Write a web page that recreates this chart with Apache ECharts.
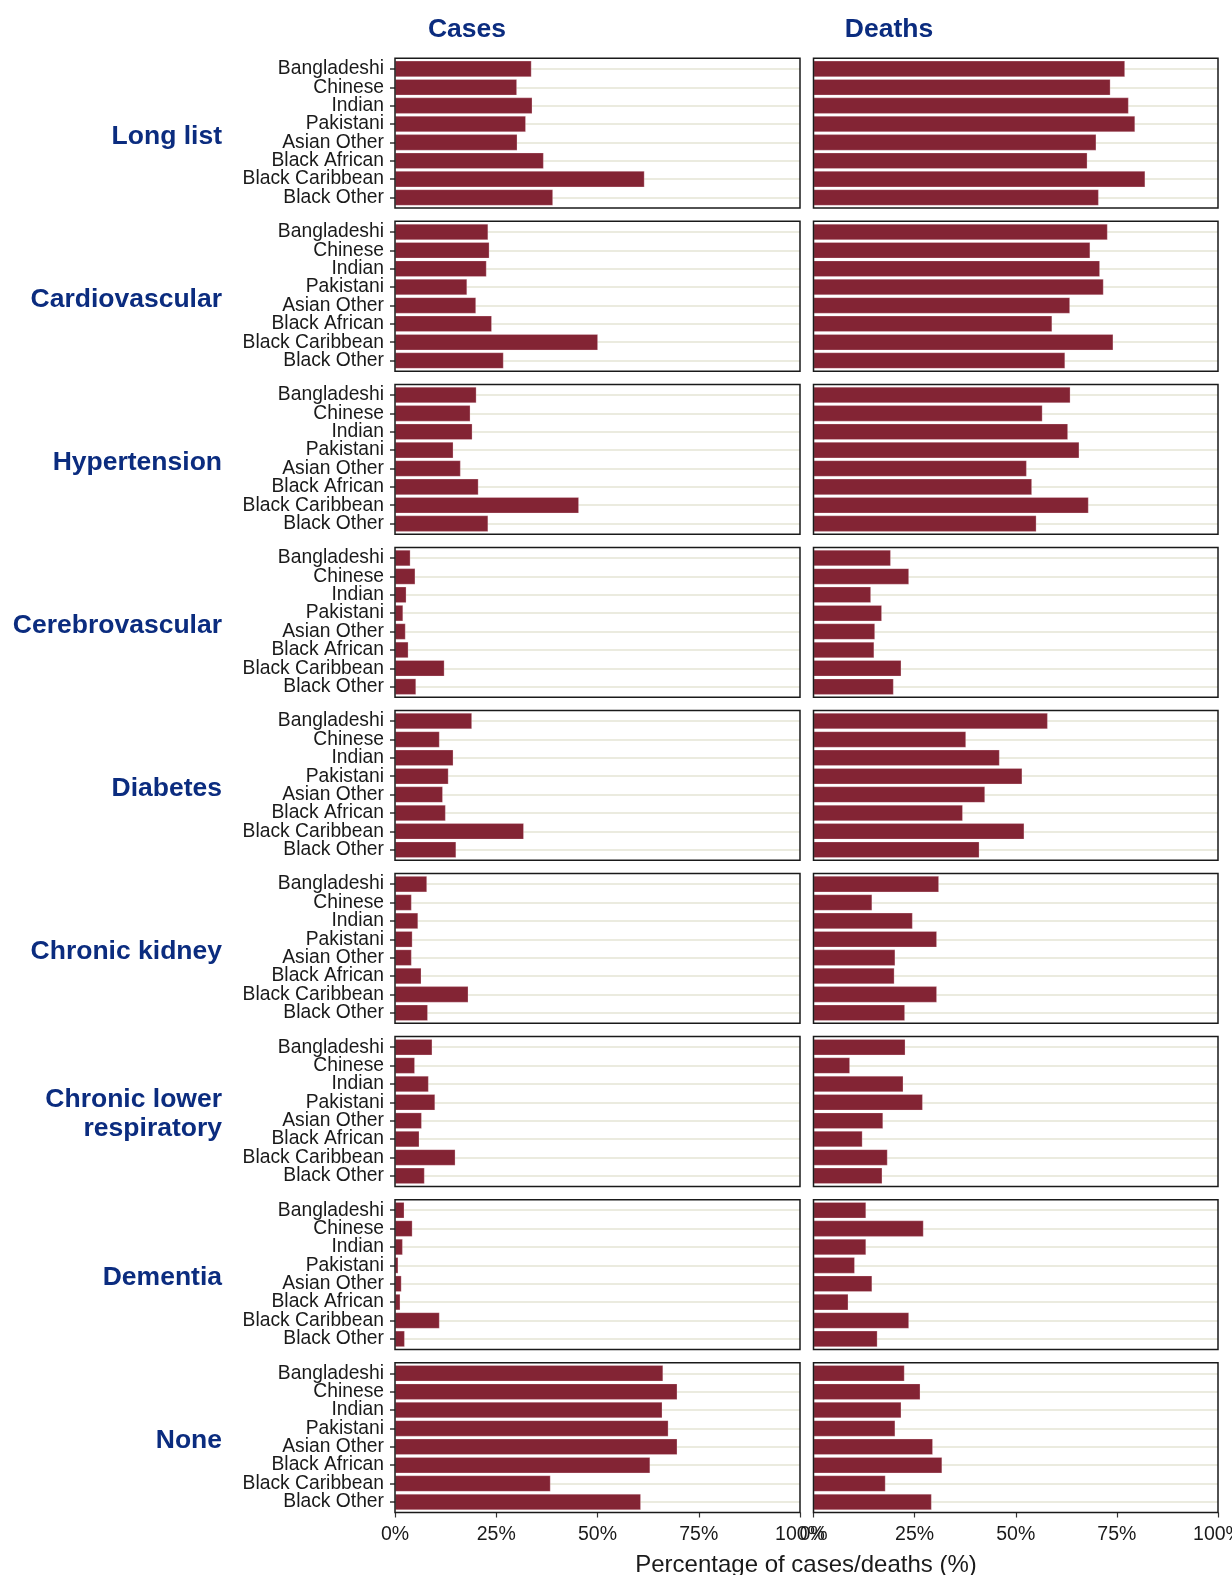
<!DOCTYPE html>
<html>
<head>
<meta charset="utf-8">
<title>Cases and deaths by pre-existing condition and ethnic group</title>
<script src="https://cdn.jsdelivr.net/npm/echarts@6/dist/echarts.min.js"></script>
<style>
  html, body { margin: 0; padding: 0; background: #ffffff; }
  #chart { width: 1232px; height: 1575px; }
</style>
</head>
<body>
<div id="chart"></div>
<script>
// Ethnic groups (top to bottom within each panel)
const ethnicities = ['Bangladeshi', 'Chinese', 'Indian', 'Pakistani', 'Asian Other', 'Black African', 'Black Caribbean', 'Black Other'];

// Panel rows and columns
const conditions = ['Long list', 'Cardiovascular', 'Hypertension', 'Cerebrovascular', 'Diabetes', 'Chronic kidney', 'Chronic lower\nrespiratory', 'Dementia', 'None'];
const columnTitles = ['Cases', 'Deaths'];

// Percentage axis ticks
const pctMin = 0;
const pctMax = 100;
const pctStep = 25;

// Percentage of cases / deaths with each condition, by ethnic group
const longListCases        = [33.7, 30.1, 33.9, 32.3, 30.2, 36.7, 61.6, 39.0];
const longListDeaths       = [77.0, 73.4, 77.9, 79.5, 69.9, 67.7, 82.0, 70.5];
const cardiovascularCases  = [23.0, 23.3, 22.6, 17.8, 20.0, 23.9, 50.1, 26.8];
const cardiovascularDeaths = [72.7, 68.4, 70.8, 71.7, 63.4, 59.0, 74.1, 62.2];
const hypertensionCases    = [20.1, 18.6, 19.1, 14.4, 16.2, 20.6, 45.4, 23.0];
const hypertensionDeaths   = [63.5, 56.6, 62.9, 65.7, 52.7, 54.0, 68.0, 55.1];
const cerebrovascularCases = [3.8, 5.0, 2.8, 2.0, 2.6, 3.3, 12.2, 5.2];
const cerebrovascularDeaths= [19.1, 23.6, 14.2, 16.9, 15.2, 15.0, 21.7, 19.8];
const diabetesCases        = [19.0, 11.0, 14.4, 13.2, 11.8, 12.5, 31.8, 15.1];
const diabetesDeaths       = [57.9, 37.7, 46.0, 51.6, 42.4, 36.9, 52.1, 41.0];
const kidneyCases          = [7.9, 4.1, 5.7, 4.3, 4.1, 6.5, 18.1, 8.1];
const kidneyDeaths         = [31.0, 14.5, 24.5, 30.5, 20.2, 20.0, 30.5, 22.6];
const respiratoryCases     = [9.2, 4.9, 8.3, 9.9, 6.6, 6.0, 14.9, 7.3];
const respiratoryDeaths    = [22.7, 9.0, 22.2, 27.0, 17.2, 12.1, 18.3, 17.0];
const dementiaCases        = [2.3, 4.3, 1.9, 0.8, 1.6, 1.3, 11.0, 2.4];
const dementiaDeaths       = [13.0, 27.2, 13.0, 10.2, 14.5, 8.6, 23.6, 15.8];
const noneCases            = [66.2, 69.7, 66.0, 67.5, 69.7, 63.0, 38.4, 60.7];
const noneDeaths           = [22.5, 26.4, 21.7, 20.2, 29.5, 31.8, 17.8, 29.2];

const panelValues = [
  [longListCases, longListDeaths],
  [cardiovascularCases, cardiovascularDeaths],
  [hypertensionCases, hypertensionDeaths],
  [cerebrovascularCases, cerebrovascularDeaths],
  [diabetesCases, diabetesDeaths],
  [kidneyCases, kidneyDeaths],
  [respiratoryCases, respiratoryDeaths],
  [dementiaCases, dementiaDeaths],
  [noneCases, noneDeaths]
];

// Layout
const FONT = '"Liberation Sans", Arial, Helvetica, sans-serif';
const NAVY = '#0b2c7f';
const BAR = '#832434';
const INK = '#1a1a1a';
const GUIDE = '#ebebdf';
const colLeft = [395, 813.5];
const colWidth = [405, 404.5];
const rowTop0 = 58.3;
const rowPitch = 163.05;
const panelHeight = 149.8;   // framed panel
const innerPad = 1.4;        // small breathing room above/below the bars

const grids = [], xAxes = [], yAxes = [], series = [], graphics = [];

conditions.forEach((cond, r) => {
  const top = rowTop0 + r * rowPitch;
  const isBottom = r === conditions.length - 1;
  columnTitles.forEach((col, c) => {
    const k = grids.length;
    grids.push({
      left: colLeft[c], top: top + innerPad, width: colWidth[c], height: panelHeight - 2 * innerPad,
      show: false, containLabel: false, outerBoundsMode: 'none'
    });
    xAxes.push({
      type: 'value', gridIndex: k, min: pctMin, max: pctMax, interval: pctStep,
      offset: isBottom ? innerPad : 0,
      splitLine: { show: false },
      axisLine: { show: false },
      axisTick: { show: isBottom, length: 5, lineStyle: { color: '#333333', width: 1.2 } },
      axisLabel: {
        show: isBottom, formatter: '{value}%', fontFamily: FONT, fontSize: 19.5,
        color: INK, margin: 12, hideOverlap: false
      },
      z: 3
    });
    yAxes.push({
      type: 'category', gridIndex: k, data: ethnicities, inverse: true,
      axisLine: { show: false },
      axisTick: { show: c === 0, alignWithLabel: true, interval: 0, length: 5, lineStyle: { color: '#333333', width: 1.5 } },
      axisLabel: {
        show: c === 0, interval: 0, hideOverlap: false,
        fontFamily: FONT, fontSize: 19.3, color: INK, margin: 11,
        padding: [8, 0, 0, 0]
      },
      splitLine: { show: false },
      z: 3
    });
    series.push({
      type: 'bar', xAxisIndex: k, yAxisIndex: k,
      data: panelValues[r][c],
      barCategoryGap: '12%',
      itemStyle: { color: BAR, borderColor: 'rgba(255,235,240,0.45)', borderWidth: 0.6 },
      emphasis: { disabled: true },
      silent: true,
      z: 2,
      // faint guide line through each category, kept behind the bars
      markLine: {
        z: 1, silent: true, symbol: ['none', 'none'],
        label: { show: false },
        emphasis: { disabled: true },
        lineStyle: { color: GUIDE, width: 2, type: 'solid' },
        data: ethnicities.map(e => ({ yAxis: e }))
      }
    });

    // Panel frame
    graphics.push({
      type: 'rect', silent: true, z: 10,
      shape: { x: colLeft[c], y: top, width: colWidth[c], height: panelHeight },
      style: { fill: null, stroke: INK, lineWidth: 1.5 }
    });
  });

  // Condition name on the left of each row
  graphics.push({
    type: 'text', silent: true,
    style: {
      text: cond, x: 222, y: top + panelHeight / 2 + 3,
      align: 'right', verticalAlign: 'middle',
      textAlign: 'right', textVerticalAlign: 'middle',
      font: 'bold 26.5px ' + FONT, lineHeight: 29, fill: NAVY
    }
  });
});

// Column headings
[467, 889].forEach((x, c) => {
  graphics.push({
    type: 'text', silent: true,
    style: {
      text: columnTitles[c], x: x, y: 30,
      align: 'center', verticalAlign: 'middle',
      textAlign: 'center', textVerticalAlign: 'middle',
      font: 'bold 26.5px ' + FONT, fill: NAVY
    }
  });
});

// Shared x-axis title
graphics.push({
  type: 'text', silent: true,
  style: {
    text: 'Percentage of cases/deaths (%)', x: 806, y: 1565,
    align: 'center', verticalAlign: 'middle',
    textAlign: 'center', textVerticalAlign: 'middle',
    font: '24px ' + FONT, fill: INK
  }
});

const chart = echarts.init(document.getElementById('chart'), null, { renderer: 'canvas' });
chart.setOption({
  backgroundColor: '#ffffff',
  animation: false,
  grid: grids,
  xAxis: xAxes,
  yAxis: yAxes,
  series: series,
  graphic: graphics
});
</script>
</body>
</html>
